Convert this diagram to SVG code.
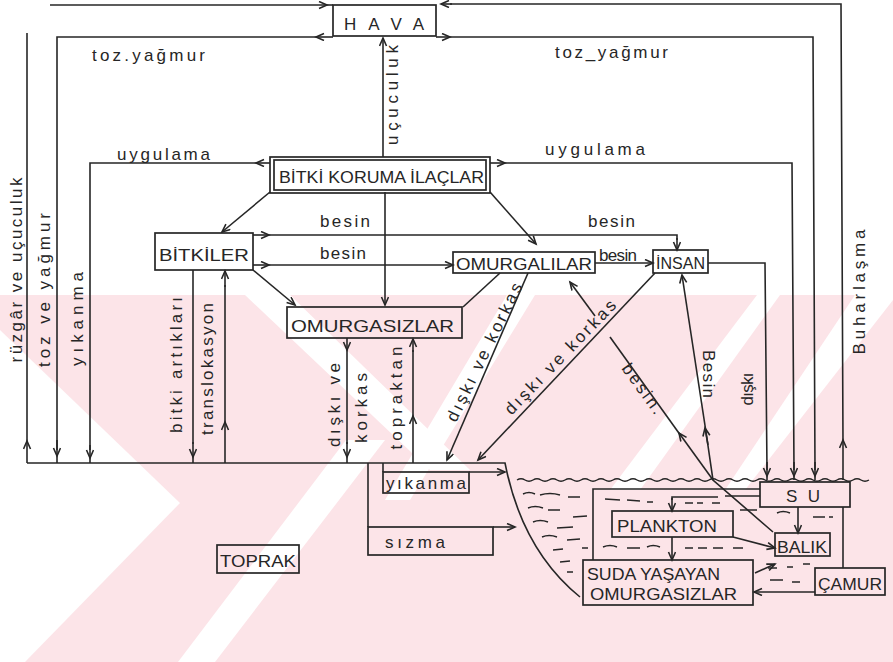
<svg xmlns="http://www.w3.org/2000/svg" width="893" height="662" viewBox="0 0 893 662">
<defs>
<marker id="a" markerUnits="userSpaceOnUse" markerWidth="12" markerHeight="12" refX="9" refY="4" orient="auto">
<path d="M1,0.5 L9,4 L1,7.5" fill="none" stroke="#262626" stroke-width="1.6"/>
</marker>
<style>
.ln{fill:none;stroke:#262626;stroke-width:1.6}
.ar{fill:none;stroke:#262626;stroke-width:1.6;marker-end:url(#a)}
.bx{fill:none;stroke:#262626;stroke-width:1.7}
.t{font-family:"Liberation Sans",Arial,sans-serif;font-size:17px;fill:#262626}
.u{font-family:"Liberation Sans",Arial,sans-serif;font-size:17px;fill:#262626}
.wv{fill:none;stroke:#262626;stroke-width:1.4}
.wm{fill:#fce4e8}
.wh{fill:#ffffff}
</style>
</defs>
<rect width="893" height="662" fill="#ffffff"/>
<g id="watermark">
<rect class="wm" x="0" y="295" width="893" height="367"/>
<polygon class="wh" points="0,330 180,503 25,662 0,662"/>
<polygon class="wh" points="245,295 290,295 470,470 430,470"/>
<polygon class="wh" points="346,440 385,440 215,662 178,662"/>
<polygon class="wh" points="507,295 535,295 410,500 385,500"/>
<polygon class="wh" points="757,295 780,295 640,490 610,490"/>
<polygon class="wh" points="855,295 893,295 893,300 745,490 725,490"/>
</g>
<g id="connectors">
<path class="ar" d="M50,5 L327,5"/><path class="ln" d="M326,5 L333,5"/>
<path class="ar" d="M843,480 L843,440"/><path class="ln" d="M843,441 L841,4 L450,4"/><path class="ar" d="M452,4 L441,4"/>
<path class="ar" d="M333,37 L316,37"/><path class="ln" d="M318,37 L57,37 L57,450"/><path class="ar" d="M57,440 L57,456"/><path class="ln" d="M57,455 L57,463"/>
<path class="ar" d="M436,37 L450,37"/><path class="ln" d="M448,37 L813,37 L815,470"/><path class="ar" d="M815,462 L815,476"/><path class="ln" d="M815,475 L815,480"/>
<path class="ar" d="M383,157 L383,38"/>
<path class="ar" d="M270,163 L256,163"/><path class="ln" d="M258,163 L90,163 L90,450"/><path class="ar" d="M90,445 L90,458"/><path class="ln" d="M90,457 L90,463"/>
<path class="ar" d="M490,163 L505,163"/><path class="ln" d="M503,163 L792,163 L794,470"/><path class="ar" d="M794,462 L794,476"/><path class="ln" d="M794,475 L794,480"/>
<path class="ar" d="M27,463 L27,441"/><path class="ln" d="M27,443 L27,33"/>
<path class="ln" d="M27,463 L505,463 Q522,550 580,597"/>
<path class="ar" d="M270,192 L222,232"/>
<path class="ar" d="M490,192 L536,244"/>
<path class="ar" d="M385,192 L385,305"/>
<path class="ar" d="M253,235 L269,235"/><path class="ln" d="M267,235 L677,235 L677,240"/><path class="ar" d="M677,238 L677,250"/>
<path class="ar" d="M253,265 L269,265"/><path class="ar" d="M267,265 L453,265"/>
<path class="ar" d="M253,270 L295,305"/>
<path class="ln" d="M500,273 L463,307"/>
<path class="ar" d="M595,263 L653,263"/>
<path class="ln" d="M708,263 L765,263 L767,470"/><path class="ar" d="M767,462 L767,476"/><path class="ln" d="M767,475 L767,480"/>
<path class="ar" d="M528,273 L447,460"/>
<path class="ar" d="M655,273 L478,460"/>
<path class="ln" d="M773,532 L713,480 L706,432"/><path class="ar" d="M708,445 L705,428"/><path class="ar" d="M706,432 L682,275"/>
<path class="ar" d="M713,480 L679,433"/><path class="ln" d="M681,436 L610,337"/><path class="ar" d="M595,316 L570,282"/>
<path class="ar" d="M347,338 L347,350"/><path class="ln" d="M347,348 L347,444"/><path class="ar" d="M347,442 L347,457"/><path class="ln" d="M347,455 L347,463"/>
<path class="ar" d="M413,463 L413,416"/><path class="ln" d="M413,418 L413,350"/><path class="ar" d="M413,352 L413,339"/>
<path class="ln" d="M193,270 L193,444"/><path class="ar" d="M193,442 L193,457"/><path class="ln" d="M193,455 L193,463"/>
<path class="ar" d="M225,463 L225,422"/><path class="ln" d="M225,424 L225,285"/><path class="ar" d="M225,287 L225,271"/>
<path class="ln" d="M383,463 L383,472"/><path class="ar" d="M469,472 L505,472"/>
<path class="ln" d="M368,463 L368,527"/><path class="ar" d="M493,527 L515,527"/>
<path class="ln" d="M593,560 L593,489 L760,489 M725,496 L760,496"/>
<path class="ln" d="M718,497 L672,497 L672,500"/><path class="ar" d="M672,498 L672,511"/>
<path class="ar" d="M672,537 L672,560"/>
<path class="ar" d="M733,537 L775,548"/>
<path class="ar" d="M798,507 L798,533"/>
<path class="ln" d="M843,507 L843,568"/>
<path class="ar" d="M815,592 L754,592"/>
<path class="ar" d="M755,573 L775,564"/>
<path class="wv" d="M517,480 q4,-2.5 8,0 t8,0 t8,0 t8,0 t8,0 t8,0 t8,0 t8,0 t8,0 t8,0 t8,0 t8,0 t8,0 t8,0 t8,0 t8,0 t8,0 t8,0 t8,0 t8,0 t8,0 t8,0 t8,0 t8,0 t8,0 t8,0 t8,0 t8,0 t8,0 t8,0 t8,0 t8,0 t8,0 t8,0 t8,0 t8,0 t8,0 t8,0 t8,0 t8,0 t8,0 t8,0 t8,0 t8,0"/>
</g>
<g id="water-marks">
<path class="wv" d="M523,494 q6,-3 12,0 M540,495 q10,-3 20,0 M568,497 l12,0 M528,508 q7,-3 15,0 M548,510 l12,0 M573,517 l14,-1 M533,522 q7,-3 15,0 M557,528 l16,-1 M542,537 q7,-3 15,0 M567,540 l13,-1 M582,548 l6,0 M553,550 l10,-1 M560,562 l10,-1 M567,572 l6,0"/>
<path class="wv" d="M605,499 l15,1 M627,500 l13,1 M647,502 l6,0 M685,503 l8,0 M697,503 l6,0 M712,503 l8,0 M740,510 l17,0 M777,513 q6,-3 13,0 M813,517 l12,0 M829,517 l4,0 M603,547 q7,-3 14,0 M627,548 l13,0 M647,547 q6,-3 13,0 M685,548 l8,0 M698,548 l9,0 M713,548 l10,0 M733,548 l10,0 M768,568 l9,0 M787,567 l6,0 M803,564 l7,0 M770,580 l13,0 M792,582 l8,0"/>
</g>
<g id="n-hava"><rect class="bx" x="333" y="5" width="103" height="31"/><text class="t" x="384" y="30" font-size="19" text-anchor="middle" textLength="80" lengthAdjust="spacing">HAVA</text></g>
<g id="n-ilac"><rect class="bx" x="270" y="157" width="220" height="36" stroke-width="3"/><rect class="bx" x="274" y="160" width="212" height="30" stroke-width="1"/><text class="t" x="279" y="183" font-size="18" textLength="205" lengthAdjust="spacingAndGlyphs">BİTKİ KORUMA İLAÇLAR</text></g>
<g id="n-bitkiler"><rect class="bx" x="155" y="233" width="98" height="37"/><text class="t" x="159" y="261" font-size="18" textLength="90" lengthAdjust="spacingAndGlyphs">BİTKİLER</text></g>
<g id="n-omurgasizlar"><rect class="bx" x="287" y="307" width="175" height="31"/><text class="t" x="291" y="332" font-size="19" textLength="163" lengthAdjust="spacingAndGlyphs">OMURGASIZLAR</text></g>
<g id="n-omurgalilar"><rect class="bx" x="453" y="252" width="142" height="21"/><text class="t" x="456" y="270" font-size="17" textLength="136" lengthAdjust="spacingAndGlyphs">OMURGALILAR</text></g>
<g id="n-insan"><rect class="bx" x="653" y="250" width="55" height="23"/><text class="t" x="656" y="269" font-size="16" textLength="49" lengthAdjust="spacingAndGlyphs">İNSAN</text></g>
<g id="n-yikanma"><rect class="bx" x="383" y="472" width="86" height="21"/><text class="t" x="386" y="489" font-size="16" textLength="80" lengthAdjust="spacing">yıkanma</text></g>
<g id="n-sizma"><rect class="bx" x="368" y="527" width="125" height="28"/><text class="t" x="385" y="548" font-size="16" textLength="60" lengthAdjust="spacing">sızma</text></g>
<g id="n-toprak"><rect class="bx" x="217" y="545" width="82" height="28"/><text class="t" x="220" y="567" font-size="18" textLength="76" lengthAdjust="spacingAndGlyphs">TOPRAK</text></g>
<g id="n-su"><rect class="bx" x="760" y="482" width="90" height="25"/><text class="t" x="803" y="502" font-size="18" text-anchor="middle" textLength="34" lengthAdjust="spacing">SU</text></g>
<g id="n-plankton"><rect class="bx" x="612" y="511" width="121" height="26"/><text class="t" x="617" y="532" font-size="18" textLength="100" lengthAdjust="spacingAndGlyphs">PLANKTON</text></g>
<g id="n-balik"><rect class="bx" x="775" y="533" width="55" height="23"/><text class="t" x="777" y="553" font-size="17" textLength="50" lengthAdjust="spacingAndGlyphs">BALIK</text></g>
<g id="n-suda"><rect class="bx" x="583" y="560" width="170" height="45"/><text class="t" x="587" y="580" font-size="17" textLength="133" lengthAdjust="spacingAndGlyphs">SUDA YAŞAYAN</text><text class="t" x="590" y="600" font-size="18" textLength="147" lengthAdjust="spacingAndGlyphs">OMURGASIZLAR</text></g>
<g id="n-camur"><rect class="bx" x="815" y="568" width="70" height="27"/><text class="t" x="818" y="590" font-size="18" textLength="64" lengthAdjust="spacingAndGlyphs">ÇAMUR</text></g>
<g id="labels">
<text class="u" x="92" y="61" textLength="113" lengthAdjust="spacing">toz.yağmur</text>
<text class="u" x="555" y="58" textLength="113" lengthAdjust="spacing">toz_yağmur</text>
<text class="u" transform="translate(398,95) rotate(-90)" text-anchor="middle" textLength="100" lengthAdjust="spacing">uçuculuk</text>
<text class="u" x="117" y="160" font-size="15" textLength="93" lengthAdjust="spacing">uygulama</text>
<text class="u" x="545" y="155" textLength="100" lengthAdjust="spacing">uygulama</text>
<text class="u" x="320" y="227" textLength="50" lengthAdjust="spacing">besin</text>
<text class="u" x="320" y="259" textLength="46" lengthAdjust="spacing">besin</text>
<text class="u" x="588" y="227" textLength="47" lengthAdjust="spacing">besin</text>
<text class="u" x="599" y="261" font-size="16" textLength="38" lengthAdjust="spacing">besin</text>
<text class="u" transform="translate(22,270) rotate(-90)" text-anchor="middle" textLength="185" lengthAdjust="spacing">rüzgâr ve uçuculuk</text>
<text class="u" transform="translate(50,290) rotate(-90)" text-anchor="middle" textLength="154" lengthAdjust="spacing">toz ve yağmur</text>
<text class="u" transform="translate(83,319) rotate(-90)" text-anchor="middle" textLength="94" lengthAdjust="spacing">yıkanma</text>
<text class="u" transform="translate(182,365) rotate(-90)" text-anchor="middle" textLength="136" lengthAdjust="spacing">bitki artıkları</text>
<text class="u" transform="translate(213,369) rotate(-90)" text-anchor="middle" textLength="132" lengthAdjust="spacing">translokasyon</text>
<text class="u" transform="translate(340,405) rotate(-90)" text-anchor="middle" textLength="84" lengthAdjust="spacing">dışkı ve</text>
<text class="u" transform="translate(367,408) rotate(-90)" text-anchor="middle" textLength="70" lengthAdjust="spacing">korkas</text>
<text class="u" transform="translate(402,398) rotate(-90)" text-anchor="middle" textLength="103" lengthAdjust="spacing">topraktan</text>
<text class="u" transform="translate(484,352) rotate(-64)" text-anchor="middle" y="6" textLength="152" lengthAdjust="spacing">dışkı ve korkas</text>
<text class="u" transform="translate(560,357) rotate(-46)" text-anchor="middle" y="6" textLength="152" lengthAdjust="spacing">dışkı ve korkas</text>
<text class="u" transform="translate(638,392) rotate(54)" text-anchor="middle" y="0" textLength="58" lengthAdjust="spacing">besin.</text>
<text class="u" transform="translate(703,374) rotate(90)" text-anchor="middle" textLength="48" lengthAdjust="spacing">Besin</text>
<text class="u" transform="translate(753,389) rotate(-90)" text-anchor="middle" textLength="33" lengthAdjust="spacing">dışkı</text>
<text class="u" transform="translate(865,292) rotate(-90)" text-anchor="middle" textLength="125" lengthAdjust="spacing">Buharlaşma</text>
</g>
</svg>
